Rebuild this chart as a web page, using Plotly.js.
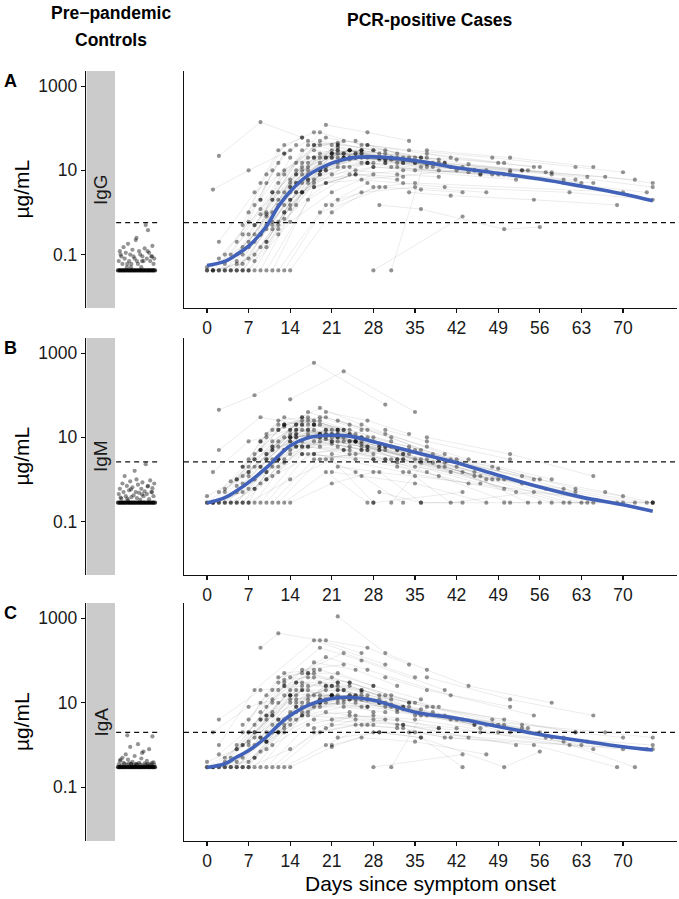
<!DOCTYPE html>
<html>
<head>
<meta charset="utf-8">
<script src="https://cdn.plot.ly/plotly-3.0.1.min.js"></script>
<style>
  html, body { margin: 0; padding: 0; background: #fff; }
  #plot { width: 679px; height: 899px; }
</style>
</head>
<body>
<div id="plot"></div>
<script>
// ---- chart values ----
const dayTicks = [0, 7, 14, 21, 28, 35, 42, 49, 56, 63, 70];
const yTickVals = [0.1, 10, 1000];
const yTickText = ["0.1", "10", "1000"];
const isotypes = ["IgG", "IgM", "IgA"];
const panelLetters = ["A", "B", "C"];
const cutoffs = [0.57, 2.6, 2.0];     // dashed positivity threshold, µg/mL
const lods = [0.042, 0.28, 0.30];     // lower limit, µg/mL

// PCR-positive cases: one row per person, sample days and levels (µg/mL)
const subjDays = [
  [0, 7, 14, 21, 28], [1, 8, 15, 22, 36], [2, 9, 16, 23, 30, 45], [3, 10, 17, 24],
  [4, 11, 18, 25, 32, 60], [5, 12, 19, 26], [6, 13, 20, 27, 41, 55], [7, 14, 21, 28],
  [8, 15, 22, 29, 50], [9, 16, 23, 30], [10, 17, 24, 31, 38, 62], [11, 18, 25, 32],
  [12, 19, 26, 40], [13, 20, 27], [14, 21, 28, 35, 70], [0, 5, 12, 19],
  [1, 6, 13, 20, 27, 48], [2, 7, 14, 21, 58, 75], [3, 8, 15, 22], [4, 9, 16, 28, 44],
  [5, 10, 17, 24, 31], [6, 11, 18, 33, 52], [7, 12, 19, 26, 34], [8, 13, 20, 42, 65],
  [9, 14, 21, 35], [10, 15, 22, 29, 43, 57], [11, 16, 23], [12, 17, 24, 38, 53, 72],
  [13, 18, 25, 32], [14, 19, 26, 33, 47], [15, 22, 29, 36], [16, 23, 30, 37, 51, 64],
  [17, 24, 31, 45], [18, 25, 32, 39], [19, 26, 33, 40, 54], [20, 27, 34],
  [21, 28, 35, 49, 63], [22, 29, 36, 43], [22, 30, 37, 44, 58], [28, 43],
  [31, 37, 50], [25, 32, 39, 53, 67, 75], [26, 33, 40, 61, 75], [27, 34, 48, 62, 70],
  [29, 36, 50, 56], [30, 37, 51], [32, 39, 46, 60, 74], [34, 41, 55, 69],
  [35, 42, 49, 56], [37, 51, 65], [2, 9, 16], [1, 7, 14],
  [2, 8, 18, 30], [14, 23, 35], [10, 17, 24], [12, 19, 30],
  [3, 9, 14, 20], [5, 11, 15, 21, 29], [6, 10, 16, 24], [7, 11, 17, 22],
  [8, 12, 18, 27], [9, 13, 19, 28, 36], [10, 14, 20, 25], [11, 15, 21, 26, 33],
  [12, 16, 22, 27], [13, 17, 23, 29], [14, 18, 24, 30, 39], [15, 19, 25],
  [16, 20, 26, 34], [17, 21, 27, 41], [18, 22, 28], [19, 24, 31, 46],
  [20, 25, 33], [21, 26, 35, 47], [4, 8, 13, 19], [0, 6, 12, 17, 23],
  [2, 6, 11, 16], [1, 5, 10, 14, 22], [7, 10, 15, 20], [9, 12, 19, 26],
  [6, 9, 12, 16], [7, 10, 13, 18], [8, 11, 14], [5, 8, 12, 15],
  [9, 11, 13, 17, 21], [3, 7, 10, 13]
];

const igG = [
  [0.042, 0.2, 5, 20, 15], [0.042, 0.5, 10, 25, 12], [0.08, 1.2, 15, 25, 18, 10], [0.042, 0.8, 6, 12],
  [0.1, 3, 20, 25, 15, 6], [0.042, 2, 10, 15], [0.3, 10, 60, 40, 20, 12], [0.042, 0.6, 3, 8],
  [0.5, 15, 35, 20, 8], [0.042, 3, 12, 15], [1, 20, 30, 20, 12, 6], [0.042, 4, 8, 6],
  [5, 80, 40, 15], [0.042, 1.5, 5], [0.042, 1, 4, 5, 3], [0.05, 0.1, 3, 15],
  [0.042, 0.06, 1.5, 10, 15, 8], [0.042, 0.08, 4, 20, 8, 4], [0.06, 0.3, 8, 40], [0.042, 0.15, 3, 12, 9],
  [0.07, 0.9, 12, 30, 20], [0.042, 0.4, 6, 10, 6], [0.15, 1.5, 25, 30, 20], [0.042, 0.7, 5, 10, 5],
  [0.3, 6, 30, 15], [0.2, 3, 20, 20, 12, 9], [2, 30, 50], [0.6, 10, 20, 15, 10, 6],
  [3, 40, 50, 25], [1.2, 10, 20, 15, 10], [8, 30, 25, 20], [10, 20, 18, 14, 10, 7],
  [15, 30, 18, 10], [4, 10, 8, 7], [20, 30, 20, 15, 10], [120, 80, 50],
  [8, 12, 10, 8, 5], [2, 4, 3.5, 3], [40, 30, 20, 14, 9], [0.042, 0.8],
  [0.042, 25, 15], [25, 20, 15, 10, 7, 5], [6, 5, 4, 3, 2], [40, 30, 20, 12, 9],
  [1.5, 1.2, 0.4, 0.45], [15, 12, 9], [12, 10, 8, 5, 3], [3, 2.5, 2, 1.5],
  [20, 18, 15, 12], [30, 20, 12], [22, 140, 60], [3.5, 10, 30],
  [0.2, 3, 30, 20], [3, 25, 15], [0.042, 2, 8], [0.042, 1, 4],
  [0.042, 0.3, 2, 10], [0.042, 0.6, 5, 25, 20], [0.1, 0.5, 8, 20], [0.3, 2, 40, 30],
  [0.07, 0.4, 5, 15], [0.9, 8, 50, 30, 20], [0.15, 1.5, 12, 20], [0.5, 5, 25, 25, 15],
  [0.3, 3, 15, 15], [1, 8, 20, 18], [4, 20, 30, 25, 18], [1.5, 8, 20],
  [5, 20, 25, 18], [5, 25, 20, 12], [40, 45, 30], [10, 18, 12, 8],
  [5, 8, 7], [1.5, 3, 4, 3], [0.042, 0.1, 1, 8], [0.042, 0.042, 0.5, 6, 20],
  [0.042, 0.15, 1, 12], [0.042, 0.06, 0.4, 2, 12], [0.042, 0.2, 3, 20], [2, 8, 40, 30],
  [0.5, 5, 30, 60], [1, 8, 40, 80], [0.2, 3, 20], [0.2, 1.5, 15, 40],
  [2, 10, 25, 50, 40], [0.1, 0.6, 5, 25]
];

const igM = [
  [0.28, 1.5, 12, 8, 4], [0.28, 3, 15, 10, 2.5], [0.5, 5, 25, 15, 6, 1.2], [0.28, 1.5, 6, 4],
  [0.9, 6, 15, 8, 3, 0.28], [0.28, 3, 8, 5], [2, 20, 30, 15, 3, 1], [0.28, 1, 3, 0.28],
  [3, 20, 12, 6, 0.6], [0.28, 4, 5, 3], [4, 40, 20, 10, 4, 0.5], [0.28, 3, 4, 2.5],
  [15, 50, 20, 4], [0.28, 1.5, 0.28], [0.28, 0.8, 1.5, 1.2, 0.28], [0.4, 1, 6, 12],
  [0.28, 0.5, 5, 10, 6, 1], [0.28, 0.6, 8, 12, 0.28, 0.28], [0.6, 2, 12, 15], [0.28, 0.8, 4, 3, 0.8],
  [0.7, 4, 25, 15, 8], [0.28, 1.2, 4, 1.5, 0.5], [1.2, 8, 20, 10, 5], [0.28, 2.5, 9, 2, 0.28],
  [2, 10, 12, 3], [1, 6, 8, 5, 1.5, 0.6], [6, 30, 15], [3, 12, 8, 2.5, 0.8, 0.28],
  [10, 25, 12, 5], [4, 10, 6, 3, 1], [15, 12, 7, 3], [6, 5, 3, 1.5, 0.28, 0.28],
  [20, 12, 6, 1.5], [4, 3, 2, 1.2], [12, 7, 4, 2.5, 0.28], [40, 25, 12],
  [4, 3, 2, 1, 0.28], [2, 1.5, 0.28, 0.28], [25, 12, 6, 3, 1], [0.28, 0.5],
  [0.28, 3, 1], [8, 5, 3, 1.2, 0.5, 0.28], [5, 3, 2, 0.28, 0.28], [10, 6, 2, 0.6, 0.4],
  [0.5, 0.28, 0.28, 0.28], [15, 8, 3], [3, 2, 1.2, 0.6, 0.28], [1.5, 0.28, 0.5, 0.28],
  [5, 3, 1.8, 1], [10, 4, 1.2], [5, 30, 20], [1.5, 8, 15],
  [45, 100, 590, 60], [80, 370, 40], [0.28, 4, 6], [0.28, 3, 5],
  [0.28, 2, 10, 12], [0.28, 3, 12, 8, 5], [0.8, 3, 15, 8], [1.5, 8, 30, 15],
  [0.6, 2, 8, 5], [5, 20, 25, 10, 5], [1, 5, 12, 8], [2, 10, 15, 8, 4],
  [1.5, 6, 10, 6], [3, 15, 10, 6], [10, 20, 12, 6, 3], [6, 12, 8],
  [8, 15, 10, 4], [6, 7, 5, 1.5], [20, 15, 8], [6, 5, 3, 0.8],
  [3, 1.5, 0.28], [1.5, 1.2, 0.8, 0.28], [0.28, 0.6, 5, 10], [0.28, 0.28, 3, 10, 8],
  [0.28, 1.2, 5, 20], [0.28, 0.5, 3, 8, 6], [0.28, 1.5, 10, 15], [8, 20, 30, 15],
  [2, 8, 25, 30], [3, 12, 30, 20], [1, 5, 15], [1, 4, 15, 20],
  [5, 15, 20, 15, 10], [0.5, 2, 10, 18]
];

const igA = [
  [0.3, 1.2, 12, 15, 6], [0.3, 2, 20, 15, 5], [0.6, 4, 30, 20, 10, 3], [0.3, 1.2, 5, 6],
  [0.5, 5, 15, 12, 6, 1.5], [0.3, 4, 10, 8], [3, 30, 120, 60, 15, 5], [0.3, 0.8, 3, 3],
  [2, 30, 30, 15, 3], [0.3, 5, 8, 6], [5, 50, 30, 15, 8, 2], [0.3, 2, 3, 2.5],
  [30, 200, 100, 20], [0.3, 1, 3], [0.3, 0.9, 2, 2, 0.8], [0.4, 0.8, 4, 12],
  [0.3, 0.5, 3, 10, 8, 3], [0.3, 0.4, 5, 15, 1.5, 1], [0.5, 1.5, 12, 25], [0.3, 0.7, 5, 4, 1.5],
  [0.8, 5, 25, 25, 12], [0.3, 1, 4, 3, 1], [1, 10, 30, 20, 10], [0.3, 2, 6, 2.5, 0.8],
  [1.5, 15, 40, 10], [1.2, 6, 12, 10, 4, 1.5], [10, 60, 80], [3, 15, 15, 6, 2.5, 0.3],
  [15, 90, 60, 25], [3, 10, 12, 7, 3], [15, 20, 12, 7], [6, 10, 8, 5, 2, 1.2],
  [12, 15, 9, 3], [2.5, 5, 4, 2.5], [15, 15, 8, 5, 2.5], [300, 200, 80],
  [4, 5, 4, 2, 1], [1.5, 2, 1.5, 0.3], [1100, 150, 60, 25, 10], [0.3, 0.6],
  [0.3, 8, 4], [10, 7, 5, 3, 2, 1.5], [3, 2.5, 1.5, 1, 0.8], [15, 10, 4, 2, 1.5],
  [2, 1.5, 0.3, 0.7], [40, 20, 8], [3, 2.5, 2, 1.2, 0.8], [2, 1.5, 1, 0.3],
  [5, 4, 3, 2], [40, 12, 5], [4, 20, 25], [2, 8, 15],
  [1, 20, 300, 80], [40, 150, 40], [0.3, 3, 5], [0.3, 2, 4],
  [0.3, 1.5, 10, 20], [0.3, 2, 8, 15, 10], [1, 4, 20, 12], [2, 12, 50, 30],
  [0.5, 2, 8, 8], [4, 25, 60, 25, 12], [0.8, 4, 12, 15], [3, 10, 25, 18, 8],
  [2, 8, 20, 12], [4, 20, 20, 10], [15, 40, 30, 15, 8], [4, 12, 15],
  [10, 25, 20, 8], [6, 15, 12, 4], [50, 50, 25], [8, 12, 8, 2.5],
  [2.5, 4, 3], [1, 1.5, 1.2, 0.6], [0.3, 0.5, 2.5, 10], [0.3, 0.3, 2, 10, 12],
  [0.3, 1, 5, 20], [0.3, 0.4, 2, 6, 10], [0.3, 1.2, 8, 25], [200, 440, 300, 150],
  [2, 10, 40, 50], [4, 15, 50, 60], [1, 6, 20], [1, 3, 20, 30],
  [6, 20, 35, 40, 25], [0.4, 2, 8, 25]
];

// smoothed trend (blue line)
const fitDays = [0, 3, 5, 7, 10, 12, 14, 17, 21, 24, 28, 35, 42, 49, 56, 63, 70, 75];
const fitIgG = [0.055, 0.069, 0.1, 0.158, 0.47, 1.38, 3.16, 7.6, 14.8, 19.5, 20.9, 17.0, 11.5, 8.5, 6.2, 4.2, 2.75, 1.9];
const fitIgM = [0.275, 0.37, 0.54, 0.85, 1.9, 3.6, 6.3, 9.8, 11.2, 10.7, 7.9, 4.4, 2.5, 1.26, 0.66, 0.38, 0.25, 0.175];
const fitIgA = [0.295, 0.36, 0.52, 0.74, 1.55, 2.95, 5.0, 8.7, 12.6, 13.5, 11.5, 6.0, 4.3, 2.75, 1.78, 1.26, 0.91, 0.76];

// pre-pandemic controls: jitter position (0..1) and level
const ctrlJitter = [0.02, 0.05, 0.09, 0.12, 0.15, 0.18, 0.21, 0.24, 0.27, 0.30, 0.33, 0.36, 0.39, 0.42,
  0.45, 0.48, 0.51, 0.54, 0.57, 0.60, 0.63, 0.66, 0.69, 0.72, 0.75, 0.78, 0.81, 0.84, 0.87, 0.90,
  0.93, 0.96, 0.98, 0.07, 0.35, 0.50, 0.65, 0.80, 0.25, 0.92];
const ctrlIgG = [0.07, 0.12, 0.09, 0.06, 0.15, 0.08, 0.11, 0.05, 0.18, 0.07, 0.10, 0.06, 0.13, 0.09,
  0.08, 0.22, 0.07, 0.06, 0.12, 0.10, 0.05, 0.09, 0.07, 0.14, 0.50, 0.08, 0.38, 0.11, 0.07, 0.09,
  0.16, 0.06, 0.08, 0.10, 0.05, 0.25, 0.07, 0.12, 0.06, 0.09];
const ctrlIgM = [0.45, 0.6, 0.35, 0.8, 0.5, 1.2, 0.4, 0.7, 0.32, 0.55, 0.9, 0.38, 0.65, 0.42,
  1.6, 0.5, 0.36, 0.75, 0.48, 0.33, 0.6, 0.85, 0.4, 0.52, 2.3, 0.45, 0.7, 0.34, 0.95, 0.5,
  0.62, 0.4, 0.8, 0.37, 0.58, 1.0, 0.44, 0.68, 0.35, 0.5];
const ctrlIgA = [0.35, 0.42, 0.33, 0.5, 0.38, 0.36, 0.6, 0.34, 0.45, 0.37, 0.9, 0.35, 0.4, 0.33,
  0.55, 0.36, 0.34, 1.05, 0.38, 0.35, 0.48, 0.33, 0.7, 0.37, 0.34, 0.42, 0.36, 0.8, 0.35, 0.33,
  1.6, 0.39, 0.34, 0.45, 0.36, 0.35, 0.65, 0.33, 1.7, 0.38];
// controls sitting at the lower limit
const ctrlLodJitter = [0.00, 0.04, 0.07, 0.11, 0.14, 0.18, 0.21, 0.25, 0.29, 0.32, 0.36, 0.39, 0.43,
  0.46, 0.50, 0.54, 0.57, 0.61, 0.64, 0.68, 0.71, 0.75, 0.79, 0.82, 0.86, 0.89, 0.93, 0.96, 1.00];

const caseVals = [igG, igM, igA];
const fitVals = [fitIgG, fitIgM, fitIgA];
const ctrlVals = [ctrlIgG, ctrlIgM, ctrlIgA];

// ---- layout geometry (pixels in the 679x899 figure) ----
const W = 679, H = 899;
const FONT = "Liberation Sans, Arial, Helvetica, sans-serif";
const panelTop = [71, 338, 603];
const panelBot = [308, 575, 841];
const Y_RANGE = [-2.27, 3.36];
const X_RANGE = [-3.87, 79.08];
const CTRL_RANGE = [-0.865, 1.081];

const px = v => v / W;
const py = v => 1 - v / H;

function checkData() {
  caseVals.forEach((vals, k) => {
    if (vals.length !== subjDays.length) console.warn("row count mismatch", isotypes[k]);
    vals.forEach((row, i) => {
      if (row.length !== subjDays[i].length) console.warn("length mismatch", isotypes[k], i + 1);
    });
  });
}

function buildPanel(p) {
  const xa = p * 2 + 1, xb = p * 2 + 2;
  const ka = xa === 1 ? "" : xa;
  const vals = caseVals[p];

  // one line trace per panel, people separated by gaps
  const lx = [], ly = [];
  subjDays.forEach((days, i) => {
    days.forEach((d, j) => { lx.push(d); ly.push(vals[i][j]); });
    lx.push(null); ly.push(null);
  });

  const traces = [];
  traces.push({
    type: "scatter", mode: "lines", x: lx, y: ly, xaxis: "x" + xb, yaxis: "y" + xb,
    line: { color: "rgba(0,0,0,0.10)", width: 0.8 }, connectgaps: false,
    hoverinfo: "skip", showlegend: false
  });
  traces.push({
    type: "scatter", mode: "markers", x: lx, y: ly, xaxis: "x" + xb, yaxis: "y" + xb,
    marker: { color: "rgba(0,0,0,0.42)", size: 4.2 },
    hoverinfo: "skip", showlegend: false
  });
  traces.push({
    type: "scatter", mode: "lines", x: fitDays, y: fitVals[p], xaxis: "x" + xb, yaxis: "y" + xb,
    line: { color: "#4162B8", width: 3.6, shape: "spline", smoothing: 1 },
    hoverinfo: "skip", showlegend: false
  });
  // controls
  traces.push({
    type: "scatter", mode: "markers", x: ctrlLodJitter, y: ctrlLodJitter.map(() => lods[p]),
    xaxis: "x" + ka, yaxis: "y" + ka,
    marker: { color: "rgba(0,0,0,0.75)", size: 4.2 },
    hoverinfo: "skip", showlegend: false
  });
  traces.push({
    type: "scatter", mode: "markers", x: ctrlJitter, y: ctrlVals[p], xaxis: "x" + ka, yaxis: "y" + ka,
    marker: { color: "rgba(0,0,0,0.42)", size: 4.2 },
    hoverinfo: "skip", showlegend: false
  });
  return traces;
}

function axisPair(p, layout) {
  const xa = p * 2 + 1, xb = p * 2 + 2;
  const ka = xa === 1 ? "" : xa;
  const yDom = [py(panelBot[p]), py(panelTop[p])];
  const line = { showline: true, linecolor: "#111", linewidth: 1.2, zeroline: false, showgrid: false };
  const tickFont = { family: FONT, size: 17.5, color: "#1a1a1a" };

  layout["xaxis" + ka] = {
    domain: [px(86), px(158)], range: CTRL_RANGE, anchor: "y" + ka,
    visible: false, fixedrange: true
  };
  layout["yaxis" + ka] = Object.assign({}, line, {
    domain: yDom, type: "log", range: Y_RANGE, anchor: "x" + ka,
    tickmode: "array", tickvals: yTickVals, ticktext: yTickText,
    ticks: "outside", ticklen: 4, tickwidth: 1.2, tickcolor: "#111",
    tickfont: tickFont, automargin: false
  });
  layout["xaxis" + xb] = Object.assign({}, line, {
    domain: [px(184), px(677)], range: X_RANGE, anchor: "y" + xb,
    tickmode: "array", tickvals: dayTicks,
    ticks: "outside", ticklen: 4, tickwidth: 1.2, tickcolor: "#111",
    tickfont: tickFont, automargin: false
  });
  layout["yaxis" + xb] = Object.assign({}, line, {
    domain: yDom, type: "log", range: Y_RANGE, anchor: "x" + xb,
    showticklabels: false, ticks: "", automargin: false
  });

  // dashed thresholds, grey strip
  const dash = { color: "#111", width: 1.2, dash: "5px,4px" };
  layout.shapes.push({
    type: "line", layer: "below", xref: "x" + xb + " domain", x0: 0, x1: 1,
    yref: "y" + xb, y0: cutoffs[p], y1: cutoffs[p], line: dash
  });
  layout.shapes.push({
    type: "line", layer: "below", xref: "x" + ka, x0: -0.05, x1: 1.06,
    yref: "y" + ka, y0: cutoffs[p], y1: cutoffs[p], line: dash
  });
  layout.shapes.push({
    type: "rect", layer: "below", xref: "paper", x0: px(86.6), x1: px(115),
    yref: "y" + ka + " domain", y0: 0, y1: 1, fillcolor: "#cbcbcb", line: { width: 0 }
  });

  const mid = (panelTop[p] + panelBot[p]) / 2;
  layout.annotations.push(
    { text: isotypes[p], xref: "paper", yref: "paper", x: px(100.5), y: py(mid), textangle: -90,
      showarrow: false, xanchor: "center", yanchor: "middle", font: { family: FONT, size: 19, color: "#1a1a1a" } },
    { text: "µg/mL", xref: "paper", yref: "paper", x: px(21), y: py(mid), textangle: -90,
      showarrow: false, xanchor: "center", yanchor: "middle", font: { family: FONT, size: 21, color: "#000" } },
    { text: "<b>" + panelLetters[p] + "</b>", xref: "paper", yref: "paper", x: px(10), y: py(panelTop[p] + 10),
      showarrow: false, xanchor: "center", yanchor: "middle", font: { family: FONT, size: 18, color: "#000" } }
  );
}

function main() {
  checkData();
  let data = [];
  for (let p = 0; p < 3; p++) data = data.concat(buildPanel(p));

  const layout = {
    width: W, height: H,
    margin: { l: 0, r: 0, t: 0, b: 0 },
    paper_bgcolor: "#fff", plot_bgcolor: "rgba(0,0,0,0)",
    font: { family: FONT, color: "#000" },
    showlegend: false,
    shapes: [],
    annotations: [
      { text: "<b>Pre\u2212pandemic</b>", xref: "paper", yref: "paper", x: px(111), y: py(13),
        showarrow: false, xanchor: "center", yanchor: "middle", font: { family: FONT, size: 17.5 } },
      { text: "<b>Controls</b>", xref: "paper", yref: "paper", x: px(111), y: py(40),
        showarrow: false, xanchor: "center", yanchor: "middle", font: { family: FONT, size: 17.5 } },
      { text: "<b>PCR-positive Cases</b>", xref: "paper", yref: "paper", x: px(430), y: py(20),
        showarrow: false, xanchor: "center", yanchor: "middle", font: { family: FONT, size: 17.5 } },
      { text: "Days since symptom onset", xref: "paper", yref: "paper", x: px(430), y: py(883),
        showarrow: false, xanchor: "center", yanchor: "middle", font: { family: FONT, size: 21 } }
    ]
  };
  for (let p = 0; p < 3; p++) axisPair(p, layout);

  Plotly.newPlot("plot", data, layout, { staticPlot: true, displayModeBar: false });
}

main();
</script>
</body>
</html>
